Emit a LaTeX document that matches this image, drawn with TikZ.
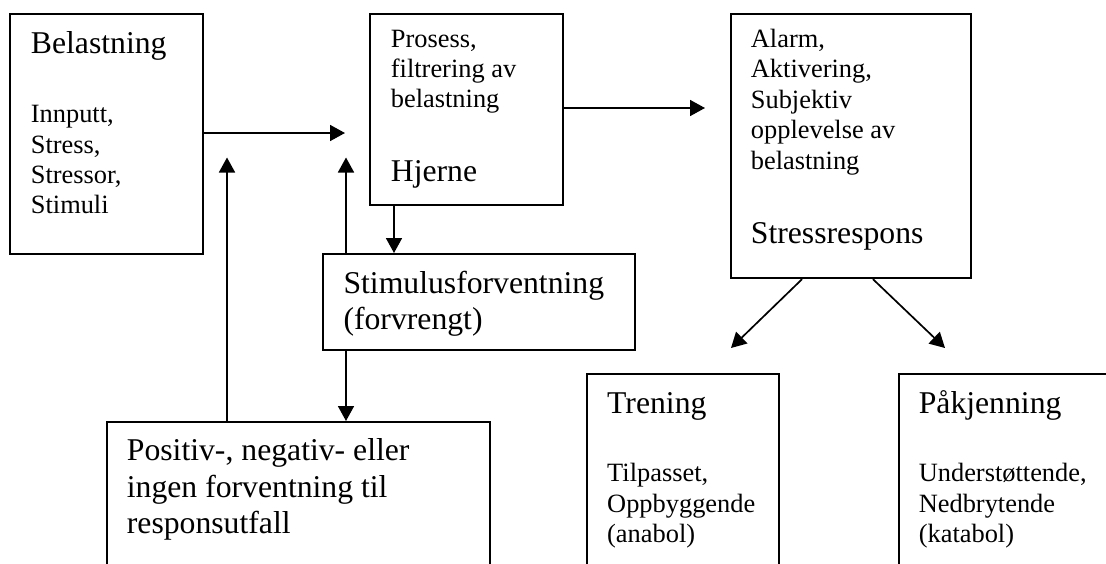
\documentclass[tikz,border=0pt]{standalone}
\usepackage{fontspec}
\setmainfont{Liberation Serif}
\usetikzlibrary{arrows.meta}

% text sizes: headings and body lines
\newcommand\headsize{\fontsize{31.7}{36.4}\selectfont}
\newcommand\bodysize{\fontsize{26.4}{30.4}\selectfont}
% left-aligned block of lines, baseline on its first line
\newcommand\linestack[1]{\begin{tabular}[t]{@{}l@{}}#1\end{tabular}}

\begin{document}
\begin{tikzpicture}[x=1pt,y=-1pt,
  box/.style={draw, line width=2.2pt, rectangle, inner sep=0pt, anchor=north west},
  head/.style={anchor=base west, inner sep=0pt, font=\headsize},
  body/.style={anchor=base west, inner sep=0pt, font=\bodysize},
  link/.style={line width=1.7pt, -{Triangle[length=15pt,width=16pt]}}]

\useasboundingbox (0,0) rectangle (1106,563);
\fill[white] (0,0) rectangle (1106,563);
\clip (0,0) rectangle (1106,563);

% boxes
\node[box, minimum width=193pt, minimum height=240pt] (bel) at (9,13) {};
\node[box, minimum width=193pt, minimum height=191pt] (hje) at (369,13) {};
\node[box, minimum width=240pt, minimum height=264pt] (str) at (730,13) {};
\node[box, minimum width=312pt, minimum height=96pt]  (sti) at (322,253) {};
\node[box, minimum width=383pt, minimum height=200pt] (pos) at (106,421) {};
\node[box, minimum width=192pt, minimum height=250pt] (tre) at (586,373) {};
\node[box, minimum width=250pt, minimum height=250pt] (paa) at (898,373) {};

% texts
\node[head] (belT) at (30.7,53.3) {Belastning};
\node[body] (belB) at (30.7,122.7) {\linestack{Innputt,\\Stress,\\Stressor,\\Stimuli}};
\node[body] (hjeB) at (390.7,47) {\linestack{Prosess,\\filtrering av\\belastning}};
\node[head] (hjeT) at (390.7,181) {Hjerne};
\node[body] (strB) at (750.7,47.5) {\linestack{Alarm,\\Aktivering,\\Subjektiv\\opplevelse av\\belastning}};
\node[head] (strT) at (750.7,243.5) {Stressrespons};
\node[head] (stiT) at (343.3,293.3) {\linestack{Stimulusforventning\\(forvrengt)}};
\node[head] (posT) at (126.7,460.7) {\linestack{Positiv-, negativ- eller\\ingen forventning til\\responsutfall}};
\node[head] (treT) at (607,413.3) {Trening};
\node[body] (treB) at (607,481.7) {\linestack{Tilpasset,\\Oppbyggende\\(anabol)}};
\node[head] (paaT) at (918.6,413.3) {Påkjenning};
\node[body] (paaB) at (918.6,481.7) {\linestack{Understøttende,\\Nedbrytende\\(katabol)}};

% free arrow ends
\coordinate (inHje) at (345,133);
\coordinate (inStr) at (705,108);
\coordinate (fbA) at (346,157.5);
\coordinate (fbB) at (227,157.5);
\coordinate (toTre) at (731,348);
\coordinate (toPaa) at (945,348);

% connectors
\draw[link] (bel.east |- inHje) -- (inHje);
\draw[link] (hje.east |- inStr) -- (inStr);
\draw[link] ([xshift=25pt]hje.south west) -- ([xshift=25pt]hje.south west |- sti.north);
\draw[link] (sti.north -| fbA) -- (fbA);
\draw[link] (sti.south -| fbA) -- (pos.north -| fbA);
\draw[link] (pos.north -| fbB) -- (fbB);
\draw[link] ([xshift=72pt]str.south west) -- (toTre);
\draw[link] ([xshift=143pt]str.south west) -- (toPaa);
\end{tikzpicture}
\end{document}
